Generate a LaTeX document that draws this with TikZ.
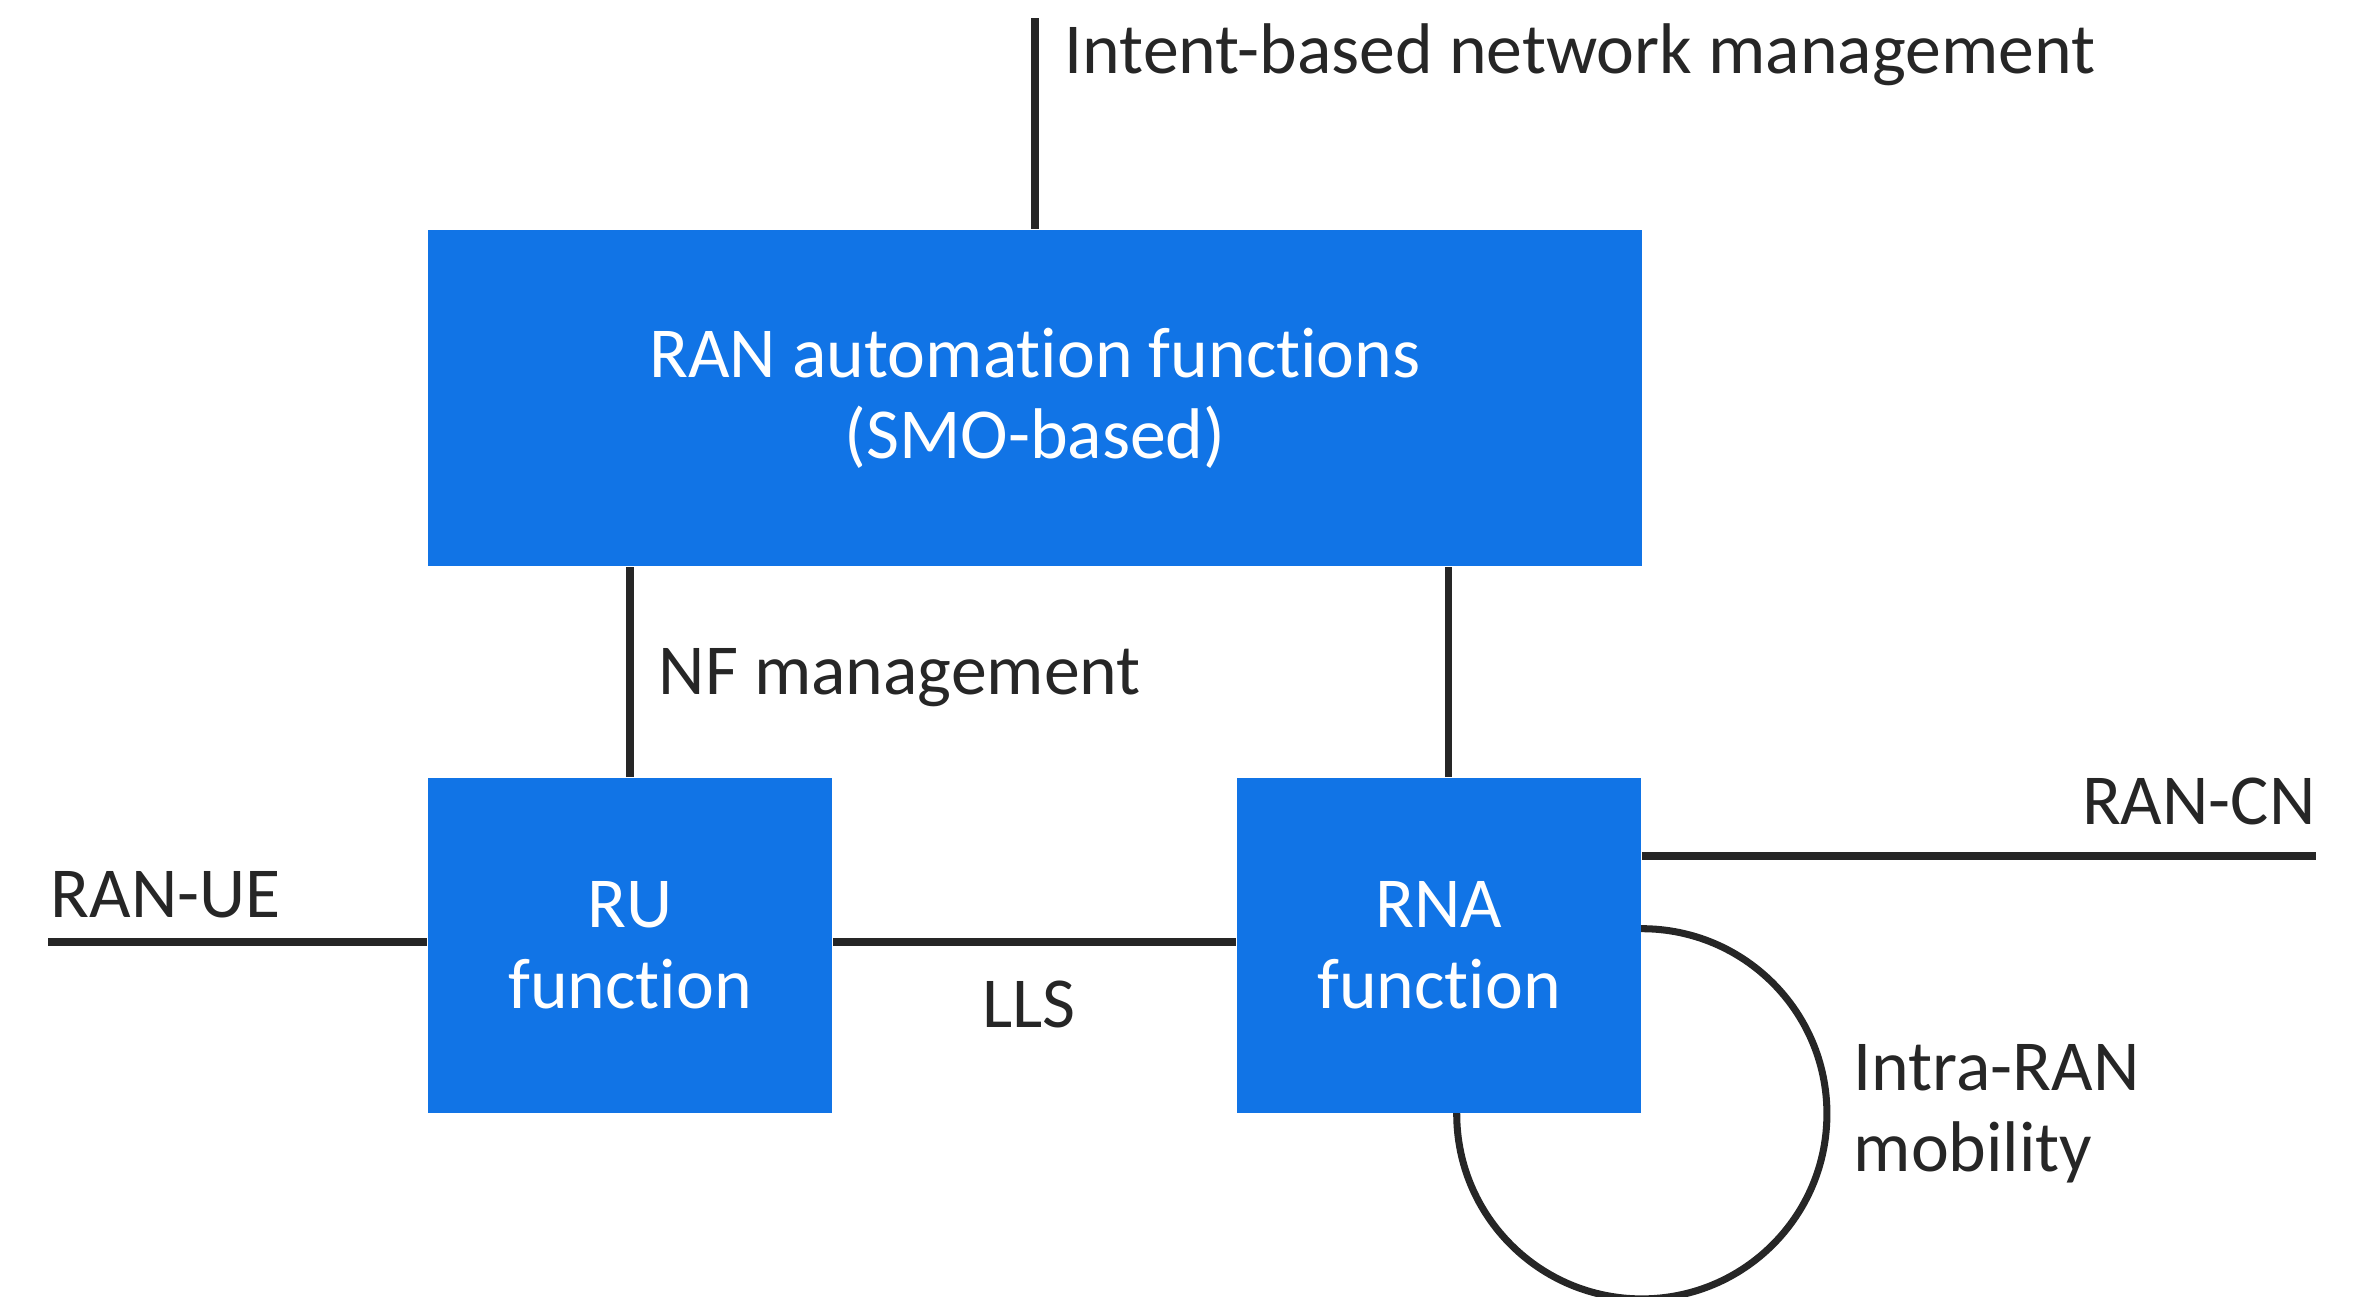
\documentclass[tikz,border=0pt]{standalone}
\usepackage{fontspec}
\setmainfont{Carlito}[Ligatures={NoCommon}]
\usetikzlibrary{backgrounds}
\definecolor{ranblue}{HTML}{1174E6}
\definecolor{inkgray}{HTML}{262626}

\begin{document}
\begin{tikzpicture}[x=0.01cm, y=-0.01cm,
  fnbox/.style={fill=ranblue, text=white, align=center, inner sep=0pt,
    font=\fontsize{20.4}{23}\selectfont},
  link/.style={draw=inkgray, line width=2pt},
  lbl/.style={text=inkgray, inner sep=0pt, font=\fontsize{20.4}{23}\selectfont}]
  \useasboundingbox (0,0) rectangle (2372,1297);
  % function boxes
  \node[fnbox, minimum width=12.14cm, minimum height=3.36cm] (smo) at (1035,398)
    {RAN automation functions\\(SMO-based)};
  \node[fnbox, minimum width=4.04cm, minimum height=3.35cm] (ru) at (630,945.5)
    {RU\\function};
  \node[fnbox, minimum width=4.04cm, minimum height=3.35cm] (rna) at (1439,945.5)
    {RNA\\function};
  % free ends
  \coordinate (ibn) at (1035,18);
  \coordinate (ue) at (48,942);
  \coordinate (cn) at (2316,856);
  % interfaces
  \draw[link] (smo.north) -- (ibn);
  \draw[link] (ru.north) -- (ru.north |- smo.south);
  \draw[link] ([xshift=0.09cm]rna.north) -- ([xshift=0.09cm]rna.north |- smo.south);
  \draw[link] (ue) -- (ue -| ru.west);
  \draw[link] (ru.east |- ue) -- (rna.west |- ue);
  \draw[link] (rna.east |- cn) -- (cn);
  \begin{pgfonlayer}{background}
    \draw[link] (rna.south east) circle[radius=1.85cm];
  \end{pgfonlayer}
  % labels
  \node[lbl, anchor=base west] (ibnlbl) at (1064,74) {Intent-based network management};
  \node[lbl, anchor=base west] (nflbl) at (658,694) {NF management};
  \node[lbl, anchor=base west] (uelbl) at (50,917) {RAN-UE};
  \node[lbl, anchor=base] (llslbl) at (1029,1027) {LLS};
  \node[lbl, anchor=base east] (cnlbl) at (2316,824) {RAN-CN};
  \node[lbl, anchor=west, align=left] (moblbl) at (1853,1114) {Intra-RAN\\mobility};
\end{tikzpicture}
\end{document}
